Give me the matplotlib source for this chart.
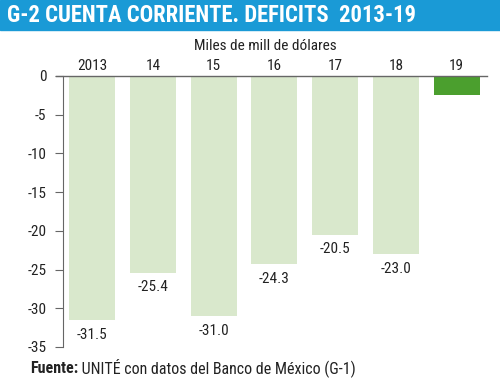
import matplotlib.pyplot as plt

years = ['2013', '14', '15', '16', '17', '18', '19']
deficit = [-31.5, -25.4, -31.0, -24.3, -20.5, -23.0, -2.5]
labels = ['-31.5', '-25.4', '-31.0', '-24.3', '-20.5', '-23.0', '']
yticks = [0, -5, -10, -15, -20, -25, -30, -35]

light = '#d9e8cc'
dark = '#4b9f2e'
blue = '#1a9ad6'
narrow = ['Roboto Condensed', 'Roboto', 'DejaVu Sans']

fig = plt.figure(figsize=(5.0, 3.83), dpi=100)

# barra del titulo
fig.patches.append(plt.Rectangle((0, 1 - 30 / 383), 1, 30 / 383, transform=fig.transFigure,
                                 color=blue, zorder=0))
fig.text(0.014, 1 - 15 / 383, 'G-2 CUENTA CORRIENTE. DEFICITS  2013-19', color='white',
         family=narrow, fontweight='bold', fontsize=16.3, va='center', ha='left')
fig.text(0.53, 1 - 46 / 383, 'Miles de mill de dólares', family=narrow, fontsize=11,
         color='#222222', ha='center', va='center')

ax = fig.add_axes([0.126, 0.094, 0.848, 0.7076])
x = range(len(years))
colors = [light] * (len(years) - 1) + [dark]
ax.bar(x, deficit, width=0.76, color=colors)
ax.set_xlim(-0.48, 6.5)
ax.set_ylim(-35, 0)

for i, (v, lab) in enumerate(zip(deficit, labels)):
    if lab:
        ax.text(i, v - 1.0, lab, ha='center', va='top', family=narrow, fontsize=11,
                color='#222222')
    ax.text(i, 0.4, years[i], ha='center', va='bottom', family=narrow, fontsize=11,
            color='#222222', clip_on=False)

ax.axhline(0, xmin=-0.017, xmax=1, color='#666666', lw=1, clip_on=False)
for s in ['top', 'right', 'bottom']:
    ax.spines[s].set_visible(False)
ax.spines['left'].set_color('#666666')
ax.set_xticks([])
ax.set_yticks(yticks)
ax.set_yticklabels([str(t) for t in yticks], family=narrow, fontsize=11, color='#222222')
ax.tick_params(axis='y', length=6, color='#666666', pad=6)

# fuente: parte en negrita y resto en la misma linea base
y_src = 1 - 373 / 383
src = fig.text(0.06, y_src, 'Fuente:', family=narrow, fontweight='bold', fontsize=11.5,
               color='#222222', va='baseline')
fig.canvas.draw()
bb = src.get_window_extent().transformed(fig.transFigure.inverted())
fig.text(bb.x1, y_src, ' UNITÉ con datos del Banco de México (G-1)', family=narrow,
         fontsize=11.5, color='#222222', va='baseline')

fig.savefig('out.png', dpi=100)
